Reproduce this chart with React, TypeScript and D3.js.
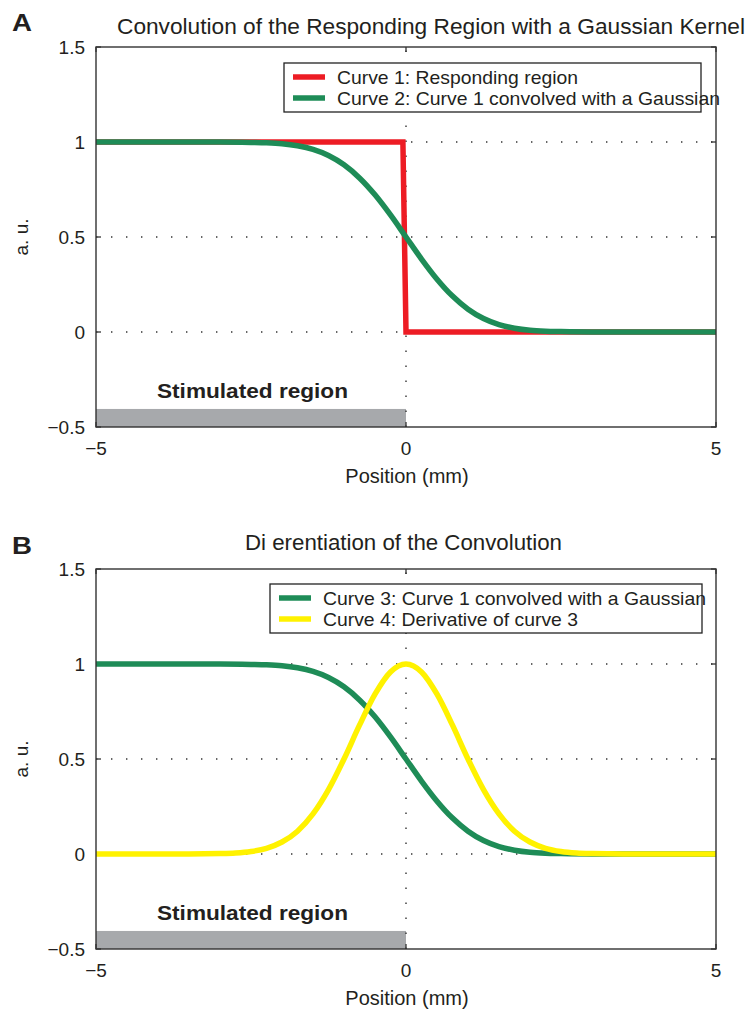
import React from "react";
import * as d3 from "d3";

const xTicks = [-5, 0, 5];
const yTicks = [-0.5, 0, 0.5, 1, 1.5];
const yTickLabels = ["\u22120.5", "0", "0.5", "1", "1.5"];
const xTickLabels = ["\u22125", "0", "5"];
const gridY = [0, 0.5, 1];

// Curve 1: responding region (step)
const redX = [-5, -0.05, 0, 5];
const redY = [1, 1, 0, 0];

// Curve 2/3: convolved with Gaussian
const greenX = [-5, -3, -2.5, -2.25, -2, -1.75, -1.5, -1.25, -1, -0.75, -0.5, -0.25, 0, 0.25, 0.5, 0.75, 1, 1.25, 1.5, 1.75, 2, 2.25, 2.5, 3, 5];
const greenY = [1, 1, 0.998, 0.996, 0.991, 0.98, 0.961, 0.929, 0.88, 0.811, 0.722, 0.616, 0.5, 0.384, 0.278, 0.189, 0.12, 0.071, 0.039, 0.02, 0.009, 0.004, 0.002, 0, 0];

// Curve 4: derivative
const yellowX = [-5, -3.5, -3, -2.75, -2.5, -2.25, -2, -1.75, -1.5, -1.25, -1, -0.75, -0.5, -0.25, 0, 0.25, 0.5, 0.75, 1, 1.25, 1.5, 1.75, 2, 2.25, 2.5, 2.75, 3, 3.5, 5];
const yellowY = [0, 0, 0.002, 0.005, 0.013, 0.03, 0.063, 0.12, 0.211, 0.339, 0.5, 0.678, 0.841, 0.958, 1, 0.958, 0.841, 0.678, 0.5, 0.339, 0.211, 0.12, 0.063, 0.03, 0.013, 0.005, 0.002, 0, 0];

const stimX = [-5, 0];
const stimY = [-0.5, -0.405];

const RED = "#ed1c24";
const GREEN = "#1e8c57";
const YELLOW = "#fff200";
const AX = "#333";
const TXT = "#231f20";
const FONT = "'Liberation Sans', Arial, Helvetica, sans-serif";

type Series = { xs: number[]; ys: number[]; color: string; label: string; labelW: number; curve: any };

function Panel(props: {
  top: number;
  letter: string;
  title: string;
  titleX: number;
  titleW: number;
  titleY: number;
  letterY: number;
  series: Series[];
  legend: { x: number; y: number; w: number; h: number };
}) {
  const { top, letter, title, titleX, titleW, titleY, letterY, series, legend } = props;
  const x = d3.scaleLinear().domain([-5, 5]).range([96, 716]);
  const y = d3.scaleLinear().domain([-0.5, 1.5]).range([top + 380, top]);
  const [x0, x1] = x.range();
  const [yb, yt] = y.range();
  const tick = 5;
  return (
    <g>
      <text x={12} y={letterY} fontSize={23} fontWeight="bold" fill={TXT} fontFamily={FONT} textLength={20} lengthAdjust="spacingAndGlyphs">{letter}</text>
      <text x={titleX} y={titleY} fontSize={22} fill={TXT} fontFamily={FONT} textLength={titleW} lengthAdjust="spacingAndGlyphs">{title}</text>
      {/* stimulated region */}
      <rect x={x(stimX[0])} y={y(stimY[1])} width={x(stimX[1]) - x(stimX[0])} height={y(stimY[0]) - y(stimY[1])} fill="#a7a9ac" />
      <text x={157} y={y(stimY[1]) - 11} fontSize={20} fontWeight="bold" fill={TXT} fontFamily={FONT} textLength={191} lengthAdjust="spacingAndGlyphs">Stimulated region</text>
      {/* grid */}
      {gridY.map((g) => (
        <line key={g} x1={x0} x2={x1} y1={y(g)} y2={y(g)} stroke="#333" strokeWidth={1.4} strokeDasharray="1.4,13.6" />
      ))}
      <line x1={x(0)} x2={x(0)} y1={yb} y2={yt} stroke="#333" strokeWidth={1.4} strokeDasharray="1.4,13.6" />
      {/* ticks */}
      {xTicks.map((t) => (
        <g key={"xt" + t}>
          <line x1={x(t)} x2={x(t)} y1={yb} y2={yb - tick} stroke={AX} strokeWidth={1.3} />
          <line x1={x(t)} x2={x(t)} y1={yt} y2={yt + tick} stroke={AX} strokeWidth={1.3} />
        </g>
      ))}
      {yTicks.map((t) => (
        <g key={"yt" + t}>
          <line x1={x0} x2={x0 + tick} y1={y(t)} y2={y(t)} stroke={AX} strokeWidth={1.3} />
          <line x1={x1} x2={x1 - tick} y1={y(t)} y2={y(t)} stroke={AX} strokeWidth={1.3} />
        </g>
      ))}
      {/* series */}
      {series.map((s, i) => {
        const pts = s.xs.map((v, k) => [v, s.ys[k]] as [number, number]);
        const line = d3.line<[number, number]>().x((d) => x(d[0])).y((d) => y(d[1])).curve(s.curve);
        return <path key={i} d={line(pts) || ""} fill="none" stroke={s.color} strokeWidth={5.5} strokeLinejoin="miter" />;
      })}
      {/* axes box */}
      <rect x={x0} y={yt} width={x1 - x0} height={yb - yt} fill="none" stroke={AX} strokeWidth={1.4} />
      {/* tick labels */}
      {xTicks.map((t, i) => (
        <text key={"xl" + t} x={x(t)} y={yb + 28} fontSize={19} textAnchor="middle" fill={TXT} fontFamily={FONT}>{xTickLabels[i]}</text>
      ))}
      {yTicks.map((t, i) => (
        <text key={"yl" + t} x={x0 - 11} y={y(t) + 7} fontSize={19} textAnchor="end" fill={TXT} fontFamily={FONT}>{yTickLabels[i]}</text>
      ))}
      <text x={x(0) + 1} y={yb + 56} fontSize={20} textAnchor="middle" fill={TXT} fontFamily={FONT}>Position (mm)</text>
      <text transform={`translate(28,${y(0.5)}) rotate(-90)`} fontSize={19} textAnchor="middle" fill={TXT} fontFamily={FONT}>a. u.</text>
      {/* legend */}
      <rect x={legend.x} y={legend.y} width={legend.w} height={legend.h} fill="#fff" stroke="#222" strokeWidth={1.3} />
      {series.map((s, i) => {
        const ly = legend.y + 14 + i * 21;
        return (
          <g key={"lg" + i}>
            <line x1={legend.x + 9} x2={legend.x + 41} y1={ly} y2={ly} stroke={s.color} strokeWidth={5.5} />
            <text x={legend.x + 53} y={ly + 7} fontSize={19} fill={TXT} fontFamily={FONT} textLength={s.labelW} lengthAdjust="spacingAndGlyphs">{s.label}</text>
          </g>
        );
      })}
    </g>
  );
}

export default function App() {
  return (
    <svg width={754} height={1020} style={{ position: "absolute", left: 0, top: 0, background: "#fff" }}>
      <rect width={754} height={1020} fill="#fff" />
      <Panel
        top={47}
        letter="A"
        letterY={31}
        title="Convolution of the Responding Region with a Gaussian Kernel"
        titleX={117}
        titleW={628}
        titleY={34}
        legend={{ x: 284, y: 63, w: 417, h: 49 }}
        series={[
          { xs: redX, ys: redY, color: RED, label: "Curve 1: Responding region", labelW: 241, curve: d3.curveLinear },
          { xs: greenX, ys: greenY, color: GREEN, label: "Curve 2: Curve 1 convolved with a Gaussian", labelW: 383, curve: d3.curveMonotoneX },
        ]}
      />
      <Panel
        top={569}
        letter="B"
        letterY={554}
        title="Di erentiation of the Convolution"
        titleX={245}
        titleW={317}
        titleY={550}
        legend={{ x: 270, y: 584, w: 432, h: 49 }}
        series={[
          { xs: greenX, ys: greenY, color: GREEN, label: "Curve 3: Curve 1 convolved with a Gaussian", labelW: 383, curve: d3.curveMonotoneX },
          { xs: yellowX, ys: yellowY, color: YELLOW, label: "Curve 4: Derivative of curve 3", labelW: 255, curve: d3.curveMonotoneX },
        ]}
      />
    </svg>
  );
}
